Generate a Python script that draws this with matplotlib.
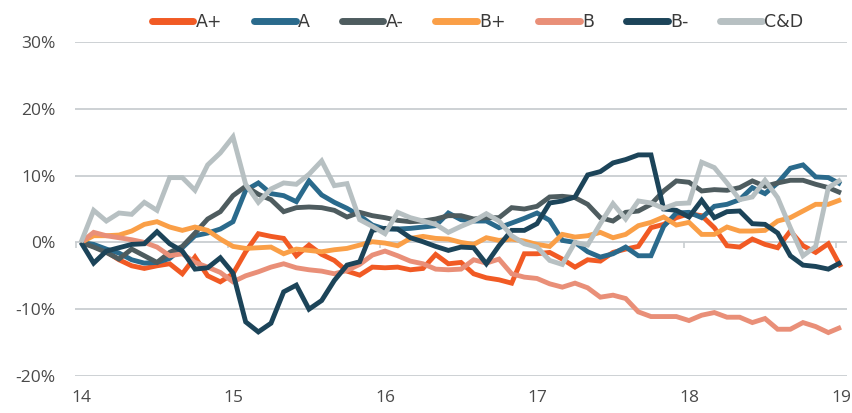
import matplotlib
matplotlib.use("Agg")
import matplotlib.pyplot as plt
import numpy as np

# monthly index values (%), Jan-14 .. Jan-19
a_plus = [0, -0.6, -1.4, -2.6, -3.5, -3.9, -3.5, -3.2, -4.7, -2.2, -5.0, -5.9, -4.7,
          -1.4, 1.3, 0.9, 0.6, -2.0, -0.4, -1.8, -2.7, -4.3, -4.9, -3.7, -3.8,
          -3.7, -4.1, -3.9, -1.8, -3.2, -3.0, -4.7, -5.3, -5.6, -6.1, -1.7, -1.7,
          -1.5, -2.5, -3.7, -2.6, -2.8, -1.5, -1.0, -0.6, 2.2, 2.7, 3.7, 4.3,
          4.0, 2.2, -0.5, -0.7, 0.5, -0.3, -0.8, 1.7, -0.5, -1.5, -0.2, -3.7]
a = [0, -0.3, -1.0, -1.6, -2.6, -3.1, -3.0, -2.4, -0.8, 1.0, 1.4, 2.0, 3.1,
     7.8, 8.9, 7.3, 7.0, 6.1, 9.2, 7.1, 6.0, 5.1, 4.0, 2.6, 2.0,
     2.0, 2.1, 2.3, 2.5, 4.4, 3.4, 3.2, 3.2, 2.2, 2.9, 3.6, 4.4,
     3.3, 0.3, 0.0, -1.4, -2.2, -1.7, -0.7, -2.0, -2.0, 2.4, 4.4, 4.5,
     3.7, 5.4, 5.7, 6.4, 8.2, 7.3, 8.9, 11.1, 11.6, 9.8, 9.7, 8.7]
a_minus = [0, -0.7, -1.5, -2.5, -1.0, -2.0, -3.0, -1.5, -0.6, 1.4, 3.5, 4.6, 7.0,
           8.4, 7.2, 6.4, 4.6, 5.2, 5.3, 5.2, 4.8, 3.8, 4.5, 4.0, 3.7,
           3.3, 3.1, 3.2, 3.5, 4.0, 4.0, 3.5, 3.7, 3.7, 5.2, 5.0, 5.4,
           6.8, 6.9, 6.7, 5.7, 3.7, 3.2, 4.5, 4.7, 5.7, 7.7, 9.2, 9.0,
           7.7, 7.9, 7.8, 8.2, 9.2, 8.4, 8.9, 9.3, 9.3, 8.7, 8.2, 7.4]
b_plus = [0, 1.0, 1.0, 1.1, 1.7, 2.7, 3.1, 2.3, 1.8, 2.3, 1.8, 0.5, -0.6,
          -0.9, -0.8, -0.7, -1.7, -1.0, -1.2, -1.4, -1.1, -0.9, -0.4, 0.1, -0.1,
          -0.5, 0.6, 0.9, 0.6, 0.5, 0.0, -0.3, 0.7, 0.3, 0.5, 0.2, -0.3,
          -0.6, 1.2, 0.8, 1.0, 1.5, 0.7, 1.2, 2.5, 3.0, 3.8, 2.6, 3.0,
          1.2, 1.2, 2.3, 1.7, 1.7, 1.8, 3.2, 3.7, 4.7, 5.7, 5.7, 6.4]
b = [0, 1.5, 1.0, 0.7, 0.4, 0.0, -0.7, -2.0, -1.7, -3.0, -3.7, -4.5, -5.9,
     -5.0, -4.4, -3.7, -3.2, -3.8, -4.1, -4.3, -4.7, -4.2, -3.3, -1.9, -1.3,
     -2.0, -2.8, -3.2, -4.0, -4.1, -4.0, -2.6, -3.1, -2.5, -4.7, -5.2, -5.4,
     -6.2, -6.7, -6.1, -6.8, -8.2, -7.9, -8.4, -10.4, -11.1, -11.1, -11.1, -11.7,
     -10.9, -10.5, -11.2, -11.2, -12.0, -11.4, -13.0, -13.0, -12.0, -12.6, -13.5, -12.7]
b_minus = [0, -3.1, -1.3, -0.8, -0.3, -0.2, 1.6, -0.2, -1.3, -4.0, -3.8, -2.3, -4.6,
           -11.9, -13.4, -12.1, -7.4, -6.4, -10.0, -8.7, -5.7, -3.4, -2.9, 1.8, 2.1,
           2.0, 0.7, 0.1, -0.6, -1.2, -0.7, -0.8, -3.2, -0.5, 1.8, 1.8, 2.8,
           5.9, 6.2, 6.8, 10.1, 10.6, 11.9, 12.4, 13.1, 13.1, 5.0, 4.8, 3.8,
           6.3, 3.7, 4.6, 4.7, 2.8, 2.7, 1.4, -2.0, -3.4, -3.6, -4.0, -3.0]
c_d = [0, 4.8, 3.2, 4.4, 4.2, 6.0, 4.8, 9.7, 9.7, 7.8, 11.6, 13.4, 15.8,
       8.7, 6.0, 8.0, 8.9, 8.7, 10.2, 12.2, 8.5, 8.8, 3.4, 2.4, 1.3,
       4.5, 3.7, 3.2, 2.7, 1.5, 2.4, 3.2, 4.3, 3.2, 1.0, -0.2, -0.7,
       -2.7, -3.3, 0.0, -0.4, 2.8, 5.8, 3.5, 6.2, 5.9, 5.1, 5.8, 5.9,
       12.0, 11.2, 8.9, 6.4, 6.8, 9.3, 6.7, 2.2, -2.0, -0.6, 8.2, 9.4]

series_names = ["A+", "A", "A-", "B+", "B", "B-", "C&D"]
series_values = [a_plus, a, a_minus, b_plus, b, b_minus, c_d]
colors = ["#F15A24", "#2A6A8C", "#4E5C5F", "#FA9F47", "#E98F78", "#1C4459", "#B7C0C2"]

year_ticks = [14, 15, 16, 17, 18, 19]
year_labels = ["14", "15", "16", "17", "18", "19"]
y_ticks = [-20, -10, 0, 10, 20, 30]
y_labels = ["-20%", "-10%", "0%", "10%", "20%", "30%"]

x = 14 + np.arange(len(a_plus)) / 12.0

fig = plt.figure(figsize=(8.52, 4.13), dpi=100)
ax = fig.add_axes([75 / 852, 1 - 376 / 413, 772 / 852, 334 / 413])

for name, vals, col in zip(series_names, series_values, colors):
    ax.plot(x, vals, color=col, lw=3.5, label=name, solid_capstyle="butt",
            solid_joinstyle="miter", zorder=3)

ax.set_xlim(14 - 6 / 152, 19 + 6 / 152)
ax.set_ylim(-20, 30)
ax.set_yticks(y_ticks)
ax.set_yticklabels(y_labels)
ax.set_xticks(year_ticks)
ax.set_xticklabels(year_labels)
ax.grid(axis="y", color="#C9CED1", lw=1.3, zorder=1)
ax.grid(axis="x", visible=False)
for s in ax.spines.values():
    s.set_visible(False)

tick_font = dict(family=["Open Sans", "DejaVu Sans"], size=12.5)
ax.tick_params(axis="y", length=0, pad=14, labelcolor="#4A4A4A")
ax.tick_params(axis="x", length=0, pad=10, labelcolor="#4A4A4A")
for lab in ax.get_xticklabels() + ax.get_yticklabels():
    lab.set_fontfamily(tick_font["family"])
    lab.set_fontsize(tick_font["size"])

# small tick marks on the zero line
sec = ax.secondary_xaxis(location=(0 - (-20)) / 50.0)
sec.set_xticks([t - 0.035 for t in year_ticks])
sec.set_xticklabels([])
sec.tick_params(length=4, width=1.2, color="#C9CED1", direction="out")
sec.spines["bottom"].set_visible(False)
sec.spines["top"].set_visible(False)

leg = ax.legend(loc="upper center", bbox_to_anchor=(0.5605, 1.0), bbox_transform=fig.transFigure,
                ncol=7, frameon=False, handlelength=2.4, handletextpad=0.15,
                columnspacing=1.82, prop={"family": ["Liberation Sans Narrow", "DejaVu Sans"], "size": 12.5},
                borderaxespad=0.35)
for line in leg.get_lines():
    line.set_linewidth(5)
    line.set_solid_capstyle("round")
for t in leg.get_texts():
    t.set_color("#3A3A3A")

fig.savefig("out.png", dpi=100)
